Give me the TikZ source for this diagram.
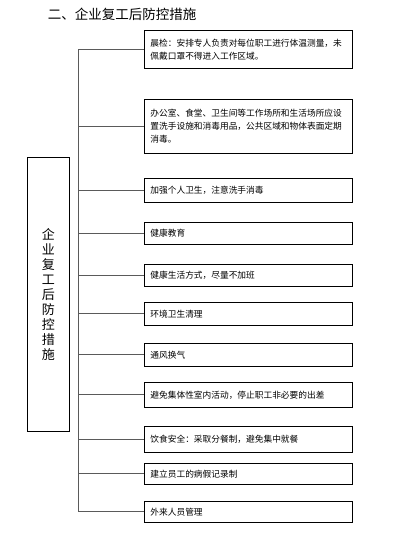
\documentclass[tikz,border=0pt]{standalone}
\usepackage{fontspec}
\setmainfont{Noto Sans CJK SC}
\usepackage{tikz}
\usepackage{xcolor}
\usetikzlibrary{positioning,calc}
\definecolor{linegray}{RGB}{90,90,90}

\begin{document}
\begin{tikzpicture}[x=1pt,y=-1pt,
  item/.style={draw=black,line width=0.9pt,anchor=north west,minimum width=208pt,text width=196pt,inner xsep=6pt,inner ysep=2pt,align=left,font=\fontsize{8.7}{13}\selectfont},
  link/.style={draw=linegray,line width=1pt}]
  \useasboundingbox (0,0) rectangle (419,540);
  \node[font=\fontsize{13.5}{16}\selectfont] (title) at (122,14) {二、企业复工后防控措施};
  \node[draw=black,line width=0.9pt,anchor=north west,minimum width=42pt,minimum height=274pt,align=center,inner sep=0pt,font=\fontsize{13}{15}\selectfont] (main) at (27,157) {企\\业\\复\\工\\后\\防\\控\\措\\施};
  \node[item,minimum height=38pt] (b1) at (144,30) {晨检：安排专人负责对每位职工进行体温测量，未\\佩戴口罩不得进入工作区域。};
  \node[item,minimum height=54pt] (b2) at (144,99) {办公室、食堂、卫生间等工作场所和生活场所应设\\置洗手设施和消毒用品，公共区域和物体表面定期\\消毒。};
  \node[item,minimum height=24pt] (b3) at (144,178) {加强个人卫生，注意洗手消毒};
  \node[item,minimum height=22pt] (b4) at (144,222) {健康教育};
  \node[item,minimum height=22pt] (b5) at (144,264) {健康生活方式，尽量不加班};
  \node[item,minimum height=23pt] (b6) at (144,302) {环境卫生清理};
  \node[item,minimum height=23pt] (b7) at (144,343) {通风换气};
  \node[item,minimum height=25pt] (b8) at (144,382) {避免集体性室内活动，停止职工非必要的出差};
  \node[item,minimum height=26pt] (b9) at (144,426) {饮食安全：采取分餐制，避免集中就餐};
  \node[item,minimum height=21pt] (b10) at (144,463) {建立员工的病假记录制};
  \node[item,minimum height=21pt] (b11) at (144,501) {外来人员管理};
  % bus line
  \coordinate (bus) at (78,0);
  \draw[link] (bus |- b1.west) -- (bus |- b11.west);
  \draw[link] (bus |- b1.west) -- (b1.west);
  \draw[link] (bus |- b2.west) -- (b2.west);
  \draw[link] (bus |- b3.west) -- (b3.west);
  \draw[link] (bus |- b4.west) -- (b4.west);
  \draw[link] (bus |- b5.west) -- (b5.west);
  \draw[link] (bus |- b6.west) -- (b6.west);
  \draw[link] (bus |- b7.west) -- (b7.west);
  \draw[link] (bus |- b8.west) -- (b8.west);
  \draw[link] (bus |- b9.west) -- (b9.west);
  \draw[link] (bus |- b10.west) -- (b10.west);
  \draw[link] (bus |- b11.west) -- (b11.west);
\end{tikzpicture}
\end{document}
